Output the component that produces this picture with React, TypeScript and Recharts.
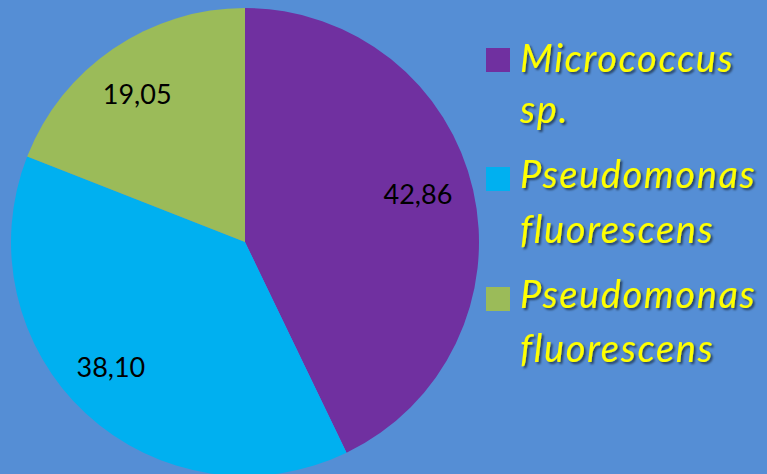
import React from "react";
import { PieChart, Pie, Cell, Legend } from "recharts";

const categories = ["Micrococcus sp.", "Pseudomonas fluorescens", "Pseudomonas fluorescens"];
const legendLines = [["Micrococcus", "sp."], ["Pseudomonas", "fluorescens"], ["Pseudomonas", "fluorescens"]];
const values = [42.86, 38.1, 19.05];
const labels = ["42,86", "38,10", "19,05"];
const colors = ["#7030A0", "#00B0F0", "#9BBB59"];
const labelNudges = [[-5, -8], [-10, -9], [-5, 2]];

const data = categories.map((name, i) => ({ name, value: values[i], label: labels[i], idx: i }));

const RADIAN = Math.PI / 180;

const renderLabel = (props: any) => {
  const { cx, cy, midAngle, outerRadius, index } = props;
  const r = outerRadius * 0.78;
  const x = cx + r * Math.cos(-midAngle * RADIAN) + labelNudges[index][0];
  const y = cy + r * Math.sin(-midAngle * RADIAN) + labelNudges[index][1];
  return (
    <text x={x} y={y} fill="#000" textAnchor="middle" dominantBaseline="central"
      style={{ fontFamily: "Lato, 'Open Sans', sans-serif", fontSize: 27 }}>
      {labels[index]}
    </text>
  );
};

const LegendContent = () => {
  const squareTops = [48, 167, 287];
  const baselines = [[72, 123], [188, 243], [308, 362]];
  return (
    <svg width={287} height={474} style={{ display: "block" }}>
      <defs>
        <filter id="shadow" x="-10%" y="-10%" width="130%" height="140%">
          <feDropShadow dx="2" dy="2" stdDeviation="1.2" floodColor="#000" floodOpacity="0.55" />
        </filter>
      </defs>
      {legendLines.map((lines, i) => (
        <g key={i}>
          <rect x={486 - 480} y={squareTops[i]} width={24} height={24} fill={colors[i]} />
          {lines.map((t, j) => (
            <text key={j} x={520 - 480} y={baselines[i][j]} fill="#FFFF00" filter="url(#shadow)"
              style={{ fontFamily: "Lato, 'Open Sans', sans-serif", fontStyle: "italic", fontSize: 38, letterSpacing: 1.6 }}>
              {t}
            </text>
          ))}
        </g>
      ))}
    </svg>
  );
};

export default function App() {
  return (
    <div style={{ position: "absolute", left: 0, top: 0, width: 767, height: 474, background: "#558ED5", overflow: "hidden" }}>
      <PieChart width={767} height={474} margin={{ top: 0, right: 0, bottom: 0, left: 0 }}>
        <Pie
          data={data}
          dataKey="value"
          nameKey="name"
          cx={245}
          cy={242}
          outerRadius={234}
          startAngle={90}
          endAngle={-270}
          stroke="none"
          label={renderLabel}
          labelLine={false}
          isAnimationActive={false}
        >
          {data.map((d, i) => (
            <Cell key={i} fill={colors[i]} />
          ))}
        </Pie>
        <Legend content={<LegendContent />}
          wrapperStyle={{ position: "absolute", left: 480, top: 0, width: 287, height: 474 }} />
      </PieChart>
    </div>
  );
}
